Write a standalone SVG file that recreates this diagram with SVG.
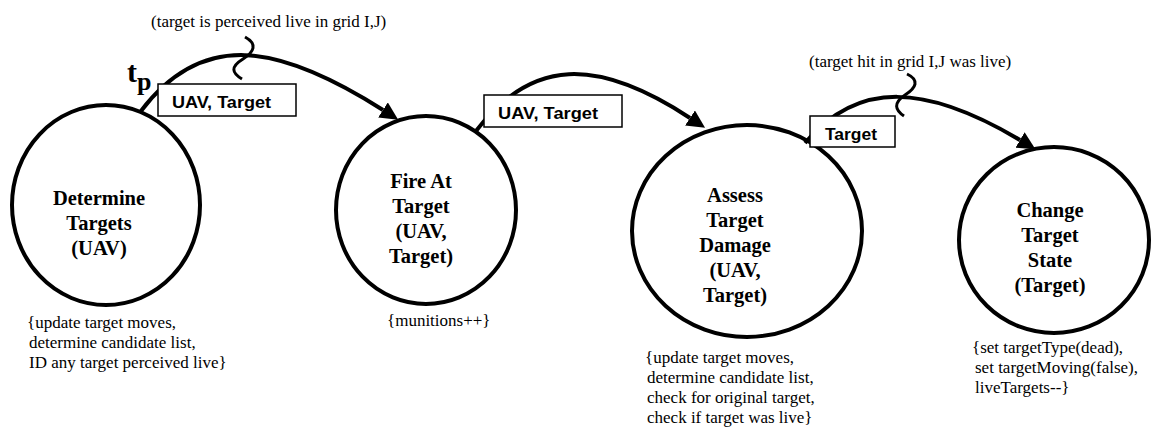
<svg xmlns="http://www.w3.org/2000/svg" width="1154" height="428" viewBox="0 0 1154 428">
<style>
.node{fill:#fff;stroke:#000;stroke-width:4}
.serif{font-family:'Liberation Serif','DejaVu Serif',serif}
.nt{font-weight:bold;font-size:20.5px;text-anchor:middle;fill:#000}
.ann{font-size:17px;fill:#000}
.arc{fill:none;stroke:#000;stroke-width:4}
.sq{fill:none;stroke:#000;stroke-width:3}
.lbox{fill:#fff;stroke:#000;stroke-width:1.5}
.lt{font-family:'Liberation Sans',Arial,sans-serif;font-weight:bold;font-size:16px;fill:#000}
.tp{font-weight:bold;fill:#000}
</style>
<defs>
<marker id="ah" markerWidth="18" markerHeight="18" refX="0" refY="9" orient="auto" markerUnits="userSpaceOnUse">
<path d="M0,0 L18,9 L0,18 z" fill="#000"/>
</marker>
</defs>
<rect width="1154" height="428" fill="#fff"/>

<g id="node-determine-targets" class="serif">
<ellipse class="node" cx="106" cy="205" rx="94" ry="100"/>
<text class="nt" x="99" y="205">Determine</text>
<text class="nt" x="99" y="230">Targets</text>
<text class="nt" x="99" y="255">(UAV)</text>
<text class="ann" x="27" y="328">{update target moves,</text>
<text class="ann" x="29" y="348">determine candidate list,</text>
<text class="ann" x="29" y="368">ID any target perceived live}</text>
</g>

<g id="node-fire-at-target" class="serif">
<ellipse class="node" cx="426" cy="210" rx="90" ry="94"/>
<text class="nt" x="421" y="188">Fire At</text>
<text class="nt" x="421" y="213">Target</text>
<text class="nt" x="421" y="238">(UAV,</text>
<text class="nt" x="421" y="263">Target)</text>
<text class="ann" x="387" y="326">{munitions++}</text>
</g>

<g id="node-assess-target-damage" class="serif">
<ellipse class="node" cx="747" cy="231" rx="115" ry="106"/>
<text class="nt" x="735" y="202">Assess</text>
<text class="nt" x="735" y="227">Target</text>
<text class="nt" x="735" y="252">Damage</text>
<text class="nt" x="735" y="277">(UAV,</text>
<text class="nt" x="735" y="302">Target)</text>
<text class="ann" x="645" y="363">{update target moves,</text>
<text class="ann" x="647" y="383">determine candidate list,</text>
<text class="ann" x="647" y="403">check for original target,</text>
<text class="ann" x="647" y="423">check if target was live}</text>
</g>

<g id="node-change-target-state" class="serif">
<ellipse class="node" cx="1054" cy="240" rx="95" ry="93"/>
<text class="nt" x="1050" y="217">Change</text>
<text class="nt" x="1050" y="242">Target</text>
<text class="nt" x="1050" y="267">State</text>
<text class="nt" x="1050" y="292">(Target)</text>
<text class="ann" x="972" y="353">{set targetType(dead),</text>
<text class="ann" x="975" y="373">set targetMoving(false),</text>
<text class="ann" x="975" y="393">liveTargets--}</text>
</g>

<g id="connectors" class="serif">
<path class="arc" d="M141,111 C202,31 276.5,42.5 383,110" marker-end="url(#ah)"/>
<path class="sq" d="M245,37 C258,44 254,52 243,59 C230,67 232,73 242,79"/>
<text class="ann" x="151" y="27">(target is perceived live in grid I,J)</text>
<text class="tp" x="127" y="82" font-size="30">t</text>
<text class="tp" x="137" y="90" font-size="26">p</text>
<rect class="lbox" x="158" y="84" width="138" height="32"/>
<text class="lt" x="172" y="108" textLength="99" lengthAdjust="spacingAndGlyphs">UAV, Target</text>

<path class="arc" d="M476,131 C531.5,58 597,57 690,118" marker-end="url(#ah)"/>
<rect class="lbox" x="484" y="95" width="138" height="32"/>
<text class="lt" x="498" y="119" textLength="100" lengthAdjust="spacingAndGlyphs">UAV, Target</text>

<path class="arc" d="M805,143 C858,80 926,84 1020,140" marker-end="url(#ah)"/>
<path class="sq" d="M907,74 C920,80 916,88 905,95 C893,103 895,110 904,116"/>
<text class="ann" x="809" y="67">(target hit in grid I,J was live)</text>
<rect class="lbox" x="810" y="116" width="85" height="31"/>
<text class="lt" x="825" y="140" textLength="52" lengthAdjust="spacingAndGlyphs">Target</text>
</g>
</svg>
